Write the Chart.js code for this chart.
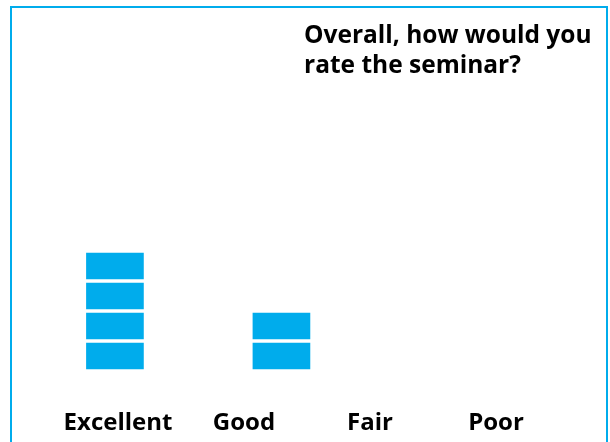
<!DOCTYPE html>
<html>
<head>
<meta charset="utf-8">
<script src="https://cdn.jsdelivr.net/npm/chart.js@4.4.1/dist/chart.umd.min.js"></script>
<style>
  html, body { margin: 0; padding: 0; background: #ffffff; }
  #wrap { position: relative; width: 610px; height: 442px; overflow: hidden; }
  #frame { position: absolute; left: 10px; top: 6px; width: 594px; height: 460px;
           border: 2px solid #00ACEC; }
  #c { position: absolute; left: 0; top: 0; }
</style>
</head>
<body>
<div id="wrap">
  <div id="frame"></div>
  <canvas id="c" width="610" height="442"></canvas>
</div>
<script>
// ---- data ----
const categories = ['Excellent', 'Good', 'Fair', 'Poor'];
const counts = [4, 2, 0, 0];
const titleLines = ['Overall, how would you', 'rate the seminar?'];

// one stacked dataset per unit block
const maxCount = Math.max(...counts);
const datasets = [];
for (let k = 0; k < maxCount; k++) {
  datasets.push({
    data: counts.map((c, i) => ({ x: i, y: c > k ? 1 : null })),
    xAxisID: 'xBar',
    backgroundColor: '#00ACEC',
    borderColor: '#ffffff',
    borderWidth: 2,
    borderSkipped: false,
    barThickness: 61
  });
}

const titlePlugin = {
  id: 'leftTitle',
  afterDraw(chart, args, opts) {
    const ctx = chart.ctx;
    ctx.save();
    ctx.font = opts.font;
    ctx.fillStyle = opts.color;
    ctx.textAlign = 'left';
    ctx.textBaseline = 'alphabetic';
    opts.lines.forEach((t, i) => ctx.fillText(t, opts.x, opts.y + i * opts.lineHeight));
    ctx.restore();
  }
};

const labelFont = { family: '"Open Sans", sans-serif', size: 24, weight: 'bold' };

new Chart(document.getElementById('c'), {
  type: 'bar',
  data: { labels: categories, datasets },
  plugins: [titlePlugin],
  options: {
    responsive: false,
    animation: false,
    layout: { padding: { left: 55, right: 51, top: 11, bottom: 0 } },
    plugins: {
      legend: { display: false },
      tooltip: { enabled: false },
      title: { display: false },
      leftTitle: {
        lines: titleLines,
        x: 304, y: 43, lineHeight: 30,
        font: 'bold 24.5px "Open Sans", sans-serif',
        color: '#000000'
      }
    },
    scales: {
      x: {
        type: 'category',
        labels: categories,
        offset: true,
        position: 'bottom',
        grid: { display: false, drawTicks: false },
        border: { display: false },
        ticks: { color: '#000000', font: labelFont, padding: 38, maxRotation: 0 },
        afterFit(scale) { scale.height = 71; }
      },
      xBar: {
        type: 'linear',
        display: true,
        position: 'bottom',
        offset: false,
        stacked: true,
        min: -0.36,
        max: 2.667,
        grid: { display: false, drawTicks: false },
        border: { display: false },
        ticks: { display: false },
        afterFit(scale) { scale.height = 0; }
      },
      y: {
        display: false,
        stacked: true,
        min: 0,
        max: 12
      }
    }
  }
});
</script>
</body>
</html>
